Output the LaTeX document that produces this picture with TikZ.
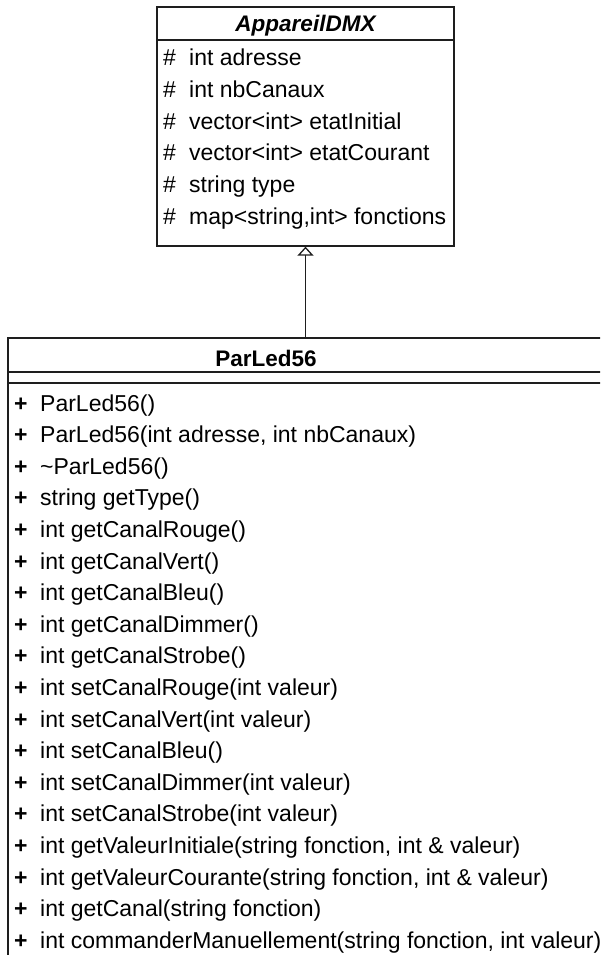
\documentclass[tikz,border=0pt]{standalone}
\usepackage{fontspec}
\setmainfont{Liberation Sans}
\usetikzlibrary{arrows.meta}
\definecolor{umlline}{HTML}{1E1E1E}

\begin{document}
\begin{tikzpicture}[x=1pt, y=-1pt,
  classbox/.style = {draw=umlline, line width=1.3pt, inner sep=0pt},
  member/.style = {anchor=base west, inner sep=0pt, font=\fontsize{23}{26}\selectfont},
  title/.style = {anchor=base, inner sep=0pt, font=\fontsize{22.5}{26}\selectfont\bfseries}]

\useasboundingbox (0,0) rectangle (600,955);
\clip (0,0) rectangle (600,955);

%% class boxes
\node[classbox, minimum width=297pt, minimum height=239pt] (appareil) at (305.5,126.5) {};
\node[classbox, minimum width=632pt, minimum height=640pt] (parled) at (324,658) {};

%% compartments
\draw[umlline, line width=1.3pt] (157,40) -- (454,40);
\draw[umlline, line width=1.3pt] (8,372) -- (640,372);
\draw[umlline, line width=1.3pt] (8,383) -- (640,383);

%% class names
\node[title] (appareilname) at (305.5,32) {\itshape AppareilDMX};
\node[title] (parledname) at (266,366) {ParLed56};

%% attributes
\node[member] (a1) at (163,66) {\makebox[26pt][l]{\#}int adresse};
\node[member] (a2) at (163,97.6) {\makebox[26pt][l]{\#}int nbCanaux};
\node[member] (a3) at (163,129.2) {\makebox[26pt][l]{\#}vector<int> etatInitial};
\node[member] (a4) at (163,160.8) {\makebox[26pt][l]{\#}vector<int> etatCourant};
\node[member] (a5) at (163,192.4) {\makebox[26pt][l]{\#}string type};
\node[member] (a6) at (163,224) {\makebox[26pt][l]{\#}map<string,int> fonctions};

%% methods
\node[member] (m1) at (14,411) {\makebox[26pt][l]{\textbf{+}}ParLed56()};
\node[member] (m2) at (14,442.6) {\makebox[26pt][l]{\textbf{+}}ParLed56(int adresse, int nbCanaux)};
\node[member] (m3) at (14,474.2) {\makebox[26pt][l]{\textbf{+}}\textasciitilde ParLed56()};
\node[member] (m4) at (14,505.8) {\makebox[26pt][l]{\textbf{+}}string getType()};
\node[member] (m5) at (14,537.4) {\makebox[26pt][l]{\textbf{+}}int getCanalRouge()};
\node[member] (m6) at (14,569) {\makebox[26pt][l]{\textbf{+}}int getCanalVert()};
\node[member] (m7) at (14,600.6) {\makebox[26pt][l]{\textbf{+}}int getCanalBleu()};
\node[member] (m8) at (14,632.2) {\makebox[26pt][l]{\textbf{+}}int getCanalDimmer()};
\node[member] (m9) at (14,663.8) {\makebox[26pt][l]{\textbf{+}}int getCanalStrobe()};
\node[member] (m10) at (14,695.4) {\makebox[26pt][l]{\textbf{+}}int setCanalRouge(int valeur)};
\node[member] (m11) at (14,727) {\makebox[26pt][l]{\textbf{+}}int setCanalVert(int valeur)};
\node[member] (m12) at (14,758.6) {\makebox[26pt][l]{\textbf{+}}int setCanalBleu()};
\node[member] (m13) at (14,790.2) {\makebox[26pt][l]{\textbf{+}}int setCanalDimmer(int valeur)};
\node[member] (m14) at (14,821.8) {\makebox[26pt][l]{\textbf{+}}int setCanalStrobe(int valeur)};
\node[member] (m15) at (14,853.4) {\makebox[26pt][l]{\textbf{+}}int getValeurInitiale(string fonction, int \& valeur)};
\node[member] (m16) at (14,885) {\makebox[26pt][l]{\textbf{+}}int getValeurCourante(string fonction, int \& valeur)};
\node[member] (m17) at (14,916.6) {\makebox[26pt][l]{\textbf{+}}int getCanal(string fonction)};
\node[member] (m18) at (14,948.2) {\makebox[26pt][l]{\textbf{+}}int commanderManuellement(string fonction, int valeur)};

%% inheritance
\draw[umlline, line width=1.3pt, -{Triangle[open, length=9pt, width=16pt]}] (appareil.south |- parled.north) -- (appareil.south);

\end{tikzpicture}
\end{document}
